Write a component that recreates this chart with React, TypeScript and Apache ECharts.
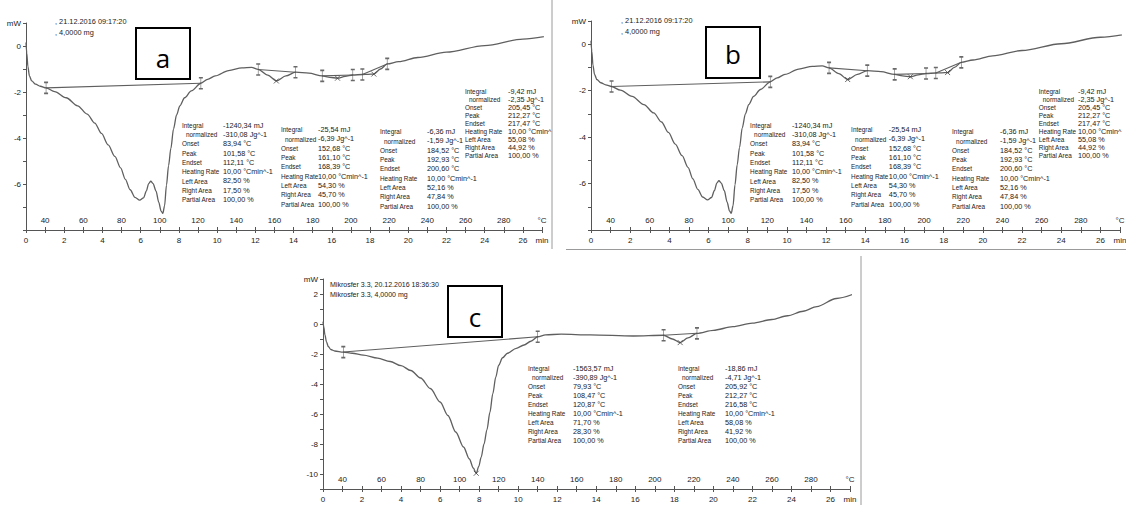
import { useEffect, useRef } from 'react';
import * as echarts from 'echarts';

type P = [number, number];

// ---------- DATA (time in min, heat flow in mW) ----------
const abCurve: P[] = [
  [0, 0.15], [0.04, -0.3], [0.1, -0.9], [0.18, -1.3], [0.3, -1.52], [0.5, -1.66], [0.75, -1.75],
  [1.05, -1.82], [1.5, -1.98], [2.1, -2.25], [2.7, -2.6], [3.2, -2.96], [3.6, -3.35], [3.95, -3.8],
  [4.3, -4.3], [4.65, -4.8], [4.95, -5.3], [5.2, -5.8], [5.45, -6.25], [5.7, -6.58], [5.95, -6.7],
  [6.15, -6.6], [6.3, -6.3], [6.42, -5.98], [6.53, -5.88], [6.65, -5.98], [6.8, -6.3], [6.95, -6.8],
  [7.07, -7.18], [7.16, -7.28], [7.25, -6.95], [7.35, -6.05], [7.46, -5.2], [7.58, -4.45], [7.72, -3.6],
  [7.88, -3.0], [8.05, -2.6], [8.3, -2.25], [8.65, -1.95], [9.15, -1.62], [9.5, -1.45], [9.9, -1.3],
  [10.6, -1.07], [11.3, -0.95], [11.8, -0.93], [12.15, -1.02], [12.65, -1.27], [13.1, -1.52],
  [13.6, -1.3], [14.1, -1.14], [14.8, -1.18], [15.5, -1.3], [15.9, -1.36], [16.3, -1.4], [16.7, -1.32],
  [17.1, -1.26], [17.6, -1.24], [17.9, -1.23], [18.2, -1.22], [18.55, -1.0], [18.9, -0.78],
  [19.5, -0.68], [20.5, -0.5], [22, -0.27], [24, 0.02], [26, 0.3], [28, 0.55],
];
const abBaselines: P[][] = [
  [[1.05, -1.82], [9.15, -1.62]],
  [[12.15, -1.02], [14.1, -1.14]],
  [[15.5, -1.3], [17.1, -1.26]],
  [[17.6, -1.24], [18.9, -0.78]],
];
const abLimits: P[] = [
  [1.05, -1.82], [9.15, -1.62], [12.15, -1.02], [14.1, -1.14], [15.5, -1.3], [17.1, -1.26], [17.6, -1.24], [18.9, -0.78],
];
const abPeaks: P[] = [[13.1, -1.52], [16.3, -1.4], [18.2, -1.22]];

const cCurve: P[] = [
  [0, 0.16], [0.04, -0.2], [0.1, -0.73], [0.18, -1.2], [0.27, -1.5], [0.4, -1.7], [0.6, -1.8],
  [1.04, -1.87], [1.5, -1.95], [2.07, -2.07], [2.8, -2.27], [3.44, -2.5], [4.0, -2.78], [4.5, -3.1],
  [5.0, -3.6], [5.5, -4.3], [6.0, -5.2], [6.4, -6.1], [6.8, -7.2], [7.2, -8.2], [7.5, -9.0],
  [7.7, -9.6], [7.85, -9.95], [7.98, -9.5], [8.1, -8.9], [8.25, -8.0], [8.4, -7.05], [8.55, -5.9],
  [8.7, -4.65], [8.85, -3.55], [9.0, -2.75], [9.2, -2.25], [9.45, -1.95], [9.9, -1.62], [10.3, -1.4],
  [10.65, -1.15], [11.0, -0.85], [11.4, -0.72], [12.2, -0.68], [13.7, -0.73], [15.9, -0.8],
  [17.45, -0.75], [17.9, -1.0], [18.3, -1.24], [18.7, -0.93], [19.16, -0.62], [20, -0.42],
  [21, -0.18], [22, 0.06], [23, 0.3], [23.8, 0.55], [24.6, 0.85], [25.3, 1.16], [26.3, 1.7], [27.2, 2.0],
];
const cBaselines: P[][] = [
  [[1.04, -1.87], [11.0, -0.85]],
  [[17.45, -0.75], [19.16, -0.62]],
];
const cLimits: P[] = [[1.04, -1.87], [11.0, -0.85], [17.45, -0.75], [19.16, -0.62]];
const cPeaks: P[] = [[7.85, -9.95], [18.3, -1.24]];

// tick labels
const timeLabelValues = [0, 2, 4, 6, 8, 10, 12, 14, 16, 18, 20, 22, 24, 26];
const tempLabelValues = [40, 60, 80, 100, 120, 140, 160, 180, 200, 220, 240, 260, 280];
const abYLabels = [0, -2, -4, -6];
const cYLabels = [2, 0, -2, -4, -6, -8, -10];

// texts
const abHeader = [', 21.12.2016 09:17:20', ', 4,0000 mg'];
const cHeader = ['Mikrosfer 3.3, 20.12.2016 18:36:30', 'Mikrosfer 3.3, 4,0000 mg'];
const tableLabels = ['Integral', 'normalized', 'Onset', 'Peak', 'Endset', 'Heating Rate', 'Left Area', 'Right Area', 'Partial Area'];
const abTable1 = ['-1240,34 mJ', '-310,08 Jg^-1', '83,94 °C', '101,58 °C', '112,11 °C', '10,00 °Cmin^-1', '82,50 %', '17,50 %', '100,00 %'];
const abTable2 = ['-25,54 mJ', '-6,39 Jg^-1', '152,68 °C', '161,10 °C', '168,39 °C', '10,00 °Cmin^-1', '54,30 %', '45,70 %', '100,00 %'];
const abTable3 = ['-6,36 mJ', '-1,59 Jg^-1', '184,52 °C', '192,93 °C', '200,60 °C', '10,00 °Cmin^-1', '52,16 %', '47,84 %', '100,00 %'];
const abTable4 = ['-9,42 mJ', '-2,35 Jg^-1', '205,45 °C', '212,27 °C', '217,47 °C', '10,00 °Cmin^', '55,08 %', '44,92 %', '100,00 %'];
const cTable1 = ['-1563,57 mJ', '-390,89 Jg^-1', '79,93 °C', '108,47 °C', '120,87 °C', '10,00 °Cmin^-1', '71,70 %', '28,30 %', '100,00 %'];
const cTable2 = ['-18,86 mJ', '-4,71 Jg^-1', '205,92 °C', '212,27 °C', '216,58 °C', '10,00 °Cmin^-1', '58,08 %', '41,92 %', '100,00 %'];
const panelLetters = ['a', 'b', 'c'];

// ---------- LAYOUT / STYLE ----------
const FONT = '"Liberation Sans", Arial, sans-serif';
const CURVE = '#5f5f5f';
const AXIS = '#555';
const TXT = '#222';
const T_MAX = 27;
const TICK_FS = 8;

const layouts = [
  { left: 26, top: 23, width: 516, height: 207, yMin: -8, yMax: 1 },
  { left: 591, top: 21, width: 529, height: 209, yMin: -8, yMax: 1 },
  { left: 323, top: 279, width: 527, height: 210, yMin: -11, yMax: 3 },
];
const aBlockPos = [[182, 223, 125, 9.3], [281, 318, 129.5, 9.3], [380, 427, 131.5, 9.3], [465, 508, 91.7, 8.0]];
const bBlockPos = aBlockPos.map(([lx, vx, y, dy]) => [591 + (lx - 26) * 1.02, Math.min(591 + (vx - 26) * 1.02, 1078), y, dy]);
const cBlockPos = [[528, 573, 368.3, 9.0], [678, 725, 368.3, 9.0]];
const boxes = [
  { x: 136, y: 28, cx: 163, cy: 58 },
  { x: 706, y: 27, cx: 733, cy: 54 },
  { x: 448, y: 286, cx: 475, cy: 317 },
];

const LIMIT_PATH = 'path://M0,0H4M2,0V12M0,12H4';
const X_PATH = 'path://M0,0L6,6M6,0L0,6';

function txt(x: number, y: number, text: string, size = 8, sx = 1) {
  return {
    type: 'text', x, y, z: 50, silent: true, scaleX: sx,
    style: { text, fontSize: size, fontFamily: FONT, fill: TXT, verticalAlign: 'middle' },
  };
}

function block(values: string[], pos: number[]) {
  const [lx, vx, y0, dy] = pos;
  const els: any[] = [];
  tableLabels.forEach((l, i) => {
    els.push(txt(lx + (i === 1 ? 4 : 0), y0 + i * dy, l, 8, 0.8));
    els.push(txt(vx, y0 + i * dy, values[i], 8, 0.91));
  });
  return els;
}

export default function App() {
  const ref = useRef<HTMLDivElement>(null);
  useEffect(() => {
    if (!ref.current) return;
    const chart = echarts.init(ref.current, null, { renderer: 'svg' });

    const panelData = [
      { curve: abCurve, baselines: abBaselines, limits: abLimits, peaks: abPeaks, yLabels: abYLabels },
      { curve: abCurve, baselines: abBaselines, limits: abLimits, peaks: abPeaks, yLabels: abYLabels },
      { curve: cCurve, baselines: cBaselines, limits: cLimits, peaks: cPeaks, yLabels: cYLabels },
    ];

    const grid: any[] = [];
    const xAxis: any[] = [];
    const yAxis: any[] = [];
    const series: any[] = [];

    layouts.forEach((L, i) => {
      const d = panelData[i];
      grid.push({ left: L.left, top: L.top, width: L.width, height: L.height, containLabel: false, outerBoundsMode: 'none' });
      xAxis.push({
        type: 'value', gridIndex: i, min: 0, max: T_MAX, interval: 1, position: 'bottom',
        axisLine: { show: true, onZero: false, lineStyle: { color: AXIS, width: 1 } },
        axisTick: { show: true, length: 3, lineStyle: { color: AXIS } },
        splitLine: { show: false },
        axisLabel: {
          show: true, margin: 6, fontSize: TICK_FS, fontFamily: FONT, color: TXT, showMaxLabel: true, showMinLabel: true,
          formatter: (v: number) => (v === T_MAX ? 'min' : timeLabelValues.includes(v) ? String(v) : ''),
        },
      });
      xAxis.push({
        type: 'value', gridIndex: i, min: 0, max: T_MAX, interval: 1, position: 'bottom',
        axisLine: { show: false, onZero: false },
        axisTick: { show: true, inside: true, length: 3, lineStyle: { color: AXIS } },
        splitLine: { show: false },
        axisLabel: {
          show: true, inside: true, margin: 6, fontSize: TICK_FS, fontFamily: FONT, color: TXT, showMaxLabel: true,
          formatter: (v: number) => (v === T_MAX ? '°C' : tempLabelValues.includes(30 + 10 * v) ? String(30 + 10 * v) : ''),
        },
      });
      yAxis.push({
        type: 'value', gridIndex: i, min: L.yMin, max: L.yMax, interval: 1,
        axisLine: { show: true, onZero: false, lineStyle: { color: AXIS, width: 1 } },
        axisTick: { show: true, length: 3, lineStyle: { color: AXIS } },
        splitLine: { show: false },
        axisLabel: {
          show: true, margin: 5, fontSize: TICK_FS, fontFamily: FONT, color: TXT, showMaxLabel: true,
          formatter: (v: number) => (v === L.yMax ? 'mW' : d.yLabels.includes(v) ? String(v) : ''),
        },
      });
      const xi = 2 * i;
      series.push({
        type: 'line', xAxisIndex: xi, yAxisIndex: i, data: d.curve, symbol: 'none', showSymbol: false,
        smooth: 0.3, smoothMonotone: 'x', clip: false, silent: true, z: 3,
        lineStyle: { color: CURVE, width: 1.3 },
      });
      d.baselines.forEach((seg) => {
        series.push({
          type: 'line', xAxisIndex: xi, yAxisIndex: i, data: seg, symbol: 'none', showSymbol: false,
          silent: true, z: 3, lineStyle: { color: CURVE, width: 1.1 },
        });
      });
      series.push({
        type: 'scatter', xAxisIndex: xi, yAxisIndex: i, data: d.limits, symbol: LIMIT_PATH, symbolSize: [4, 11],
        silent: true, z: 4, itemStyle: { color: 'none', borderColor: '#444', borderWidth: 1 },
      });
      series.push({
        type: 'scatter', xAxisIndex: xi, yAxisIndex: i, data: d.peaks, symbol: X_PATH, symbolSize: 5,
        silent: true, z: 4, itemStyle: { color: 'none', borderColor: '#444', borderWidth: 1 },
      });
    });

    const graphic: any[] = [];
    // headers
    graphic.push(txt(55, 21, abHeader[0], 8, 0.92), txt(55, 32, abHeader[1], 8, 0.92));
    graphic.push(txt(621, 20, abHeader[0], 8, 0.92), txt(621, 31, abHeader[1], 8, 0.92));
    graphic.push(txt(330, 284, cHeader[0], 8, 0.88), txt(330, 294.5, cHeader[1], 8, 0.88));
    // tables
    [abTable1, abTable2, abTable3, abTable4].forEach((t, k) => graphic.push(...block(t, aBlockPos[k])));
    [abTable1, abTable2, abTable3, abTable4].forEach((t, k) => graphic.push(...block(t, bBlockPos[k])));
    [cTable1, cTable2].forEach((t, k) => graphic.push(...block(t, cBlockPos[k])));
    // gap / borders
    graphic.push({ type: 'rect', z: 90, silent: true, shape: { x: 552, y: 0, width: 14, height: 250 }, style: { fill: '#fff' } });
    graphic.push({ type: 'line', z: 95, silent: true, shape: { x1: 552, y1: 0, x2: 552, y2: 249 }, style: { stroke: '#9a9a9a', lineWidth: 1 } });
    graphic.push({ type: 'line', z: 95, silent: true, shape: { x1: 566, y1: 249.5, x2: 1126, y2: 249.5 }, style: { stroke: '#9a9a9a', lineWidth: 1 } });
    graphic.push({ type: 'line', z: 95, silent: true, shape: { x1: 861, y1: 256, x2: 861, y2: 505 }, style: { stroke: '#9a9a9a', lineWidth: 1 } });
    // letter boxes
    boxes.forEach((b, k) => {
      graphic.push({ type: 'rect', z: 100, silent: true, shape: { x: b.x, y: b.y, width: 54, height: 51 }, style: { fill: '#fff', stroke: '#000', lineWidth: 2 } });
      graphic.push({
        type: 'text', z: 101, silent: true, x: b.cx, y: b.cy,
        style: { text: panelLetters[k], fontSize: 26, fontFamily: '"Open Sans", "Liberation Sans", sans-serif', fill: '#000', align: 'center', verticalAlign: 'middle' },
      });
    });

    chart.setOption({
      animation: false,
      backgroundColor: '#fff',
      grid, xAxis, yAxis, series, graphic,
    });
    return () => chart.dispose();
  }, []);
  return <div ref={ref} style={{ position: 'absolute', left: 0, top: 0, width: 1126, height: 505, background: '#fff' }} />;
}
